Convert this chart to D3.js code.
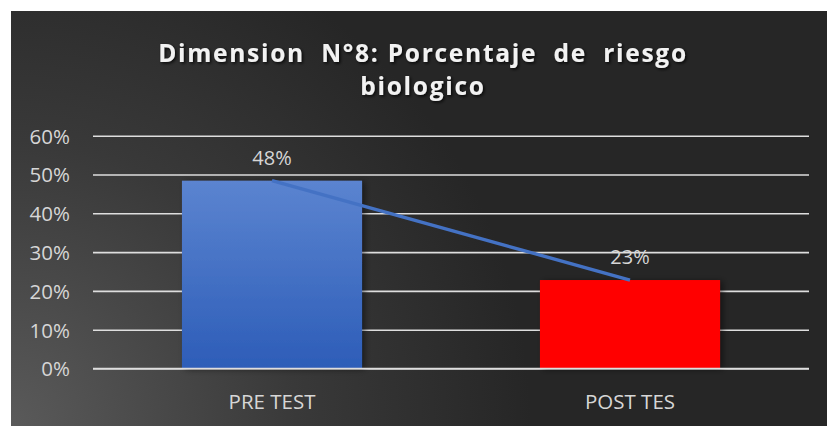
<!DOCTYPE html>
<html>
<head>
<meta charset="utf-8">
<script src="https://cdn.jsdelivr.net/npm/d3@7"></script>
<style>
  html, body { margin: 0; padding: 0; background: #ffffff; }
  svg { display: block; }
  .title text { white-space: pre; }
</style>
</head>
<body>
<svg id="chart" width="827" height="426"></svg>
<script>
// Chart data
const categories = ["PRE TEST", "POST TES"];
const values = [0.484, 0.228];
const valueLabels = ["48%", "23%"];
const tickValues = [0, 0.1, 0.2, 0.3, 0.4, 0.5, 0.6];
const titleLines = ["Dimension  N°8: Porcentaje  de  riesgo", "biologico"];

const W = 827, H = 426;
const frame = { x: 11, y: 11, w: W - 11, h: H - 11 };
const plot = { left: 93, right: 809, top: 135.7, bottom: 368.5 };

const svg = d3.select("#chart");
const defs = svg.append("defs");

// Dark background, lighter towards the lower-left corner
const bg = defs.append("radialGradient")
  .attr("id", "bgGrad")
  .attr("gradientUnits", "userSpaceOnUse")
  .attr("cx", frame.x).attr("cy", H).attr("r", 520);
bg.append("stop").attr("offset", 0).attr("stop-color", "#5a5a5a");
bg.append("stop").attr("offset", 0.55).attr("stop-color", "#393939");
bg.append("stop").attr("offset", 1).attr("stop-color", "#262626");

// Blue bar fill
const blue = defs.append("linearGradient")
  .attr("id", "blueGrad").attr("x1", 0).attr("y1", 0).attr("x2", 0).attr("y2", 1);
blue.append("stop").attr("offset", 0).attr("stop-color", "#5b84d0");
blue.append("stop").attr("offset", 1).attr("stop-color", "#2d5db8");

// Soft shadows for bars and title
const barShadow = defs.append("filter").attr("id", "barShadow")
  .attr("x", "-10%").attr("y", "-10%").attr("width", "130%").attr("height", "130%");
barShadow.append("feDropShadow").attr("dx", 3).attr("dy", 1)
  .attr("stdDeviation", 3).attr("flood-color", "#000").attr("flood-opacity", 0.45);

const titleShadow = defs.append("filter").attr("id", "titleShadow")
  .attr("x", "-5%").attr("y", "-30%").attr("width", "110%").attr("height", "160%");
titleShadow.append("feDropShadow").attr("dx", 1.5).attr("dy", 1.5)
  .attr("stdDeviation", 1.5).attr("flood-color", "#000").attr("flood-opacity", 0.8);

svg.append("rect")
  .attr("x", frame.x).attr("y", frame.y)
  .attr("width", frame.w).attr("height", frame.h)
  .attr("fill", "url(#bgGrad)");

// Scales
const x = d3.scaleBand().domain(categories)
  .range([plot.left, plot.right]).paddingInner(0.497).paddingOuter(0.2485);
const y = d3.scaleLinear().domain([0, 0.6]).range([plot.bottom, plot.top]);

// Gridlines and y tick labels
const yAxis = d3.axisLeft(y)
  .tickValues(tickValues)
  .tickFormat(d3.format(".0%"))
  .tickSize(-(plot.right - plot.left))
  .tickPadding(23);

const yg = svg.append("g")
  .attr("transform", `translate(${plot.left},0)`)
  .call(yAxis);
yg.select(".domain").remove();
yg.selectAll(".tick line")
  .attr("stroke", "#dedede").attr("stroke-width", 1.6);
yg.selectAll(".tick text")
  .attr("fill", "#d6d6d6")
  .attr("font-family", "'Open Sans', sans-serif")
  .attr("font-size", "20.5px")
  .attr("dy", "0.36em");

// Bars
const barFills = ["url(#blueGrad)", "#ff0000"];
svg.append("g").selectAll("rect")
  .data(categories)
  .join("rect")
  .attr("x", d => x(d))
  .attr("width", x.bandwidth())
  .attr("y", (d, i) => y(values[i]))
  .attr("height", (d, i) => y(0) - y(values[i]))
  .attr("fill", (d, i) => barFills[i])
  .attr("filter", "url(#barShadow)");

// Zero line on top of the bars
svg.append("line")
  .attr("x1", plot.left).attr("x2", plot.right)
  .attr("y1", y(0)).attr("y2", y(0))
  .attr("stroke", "#dedede").attr("stroke-width", 1.6);

// Trend line linking the bar tops
const line = d3.line()
  .x((d, i) => x(categories[i]) + x.bandwidth() / 2)
  .y(d => y(d));
svg.append("path")
  .datum(values)
  .attr("d", line)
  .attr("fill", "none")
  .attr("stroke", "#4472c4")
  .attr("stroke-width", 3.4);

// Value labels
svg.append("g").selectAll("text")
  .data(valueLabels)
  .join("text")
  .attr("x", (d, i) => x(categories[i]) + x.bandwidth() / 2)
  .attr("y", (d, i) => y(values[i]) - 16)
  .attr("text-anchor", "middle")
  .attr("fill", "#d6d6d6")
  .attr("font-family", "'Open Sans', sans-serif")
  .attr("font-size", "20px")
  .text(d => d);

// Category axis labels
const xAxis = d3.axisBottom(x).tickSize(0).tickPadding(26);
const xg = svg.append("g")
  .attr("transform", `translate(0,${plot.bottom})`)
  .call(xAxis);
xg.select(".domain").remove();
xg.selectAll(".tick text")
  .attr("fill", "#d6d6d6")
  .attr("font-family", "'Open Sans', sans-serif")
  .attr("font-size", "20.5px");

// Title
const title = svg.append("g").attr("class", "title").attr("filter", "url(#titleShadow)");
const tLines = title.selectAll("text")
  .data(titleLines)
  .join("text")
  .attr("x", 423)
  .attr("y", (d, i) => 62 + i * 33)
  .attr("text-anchor", "middle")
  .attr("fill", "#f2f2f2")
  .attr("font-family", "'Open Sans', sans-serif")
  .attr("font-weight", "bold")
  .attr("font-size", "24.5px")
  .text(d => d);

// Spread the letters so the first line spans the title width
const first = tLines.nodes()[0];
const natural = first.getComputedTextLength();
const spacing = Math.max(0, (528 - natural) / (titleLines[0].length - 1));
tLines.attr("letter-spacing", spacing + "px");
</script>
</body>
</html>
